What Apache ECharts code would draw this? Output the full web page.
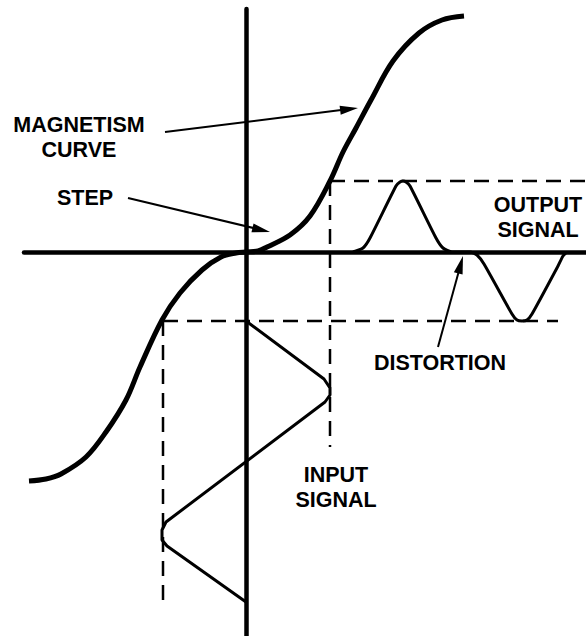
<!DOCTYPE html>
<html>
<head>
<meta charset="utf-8">
<script src="https://cdn.jsdelivr.net/npm/echarts@6/dist/echarts.min.js"></script>
<style>
  html, body { margin: 0; padding: 0; background: #fff; }
  #main { width: 586px; height: 636px; }
</style>
</head>
<body>
<div id="main"></div>
<script>
// magnetism (B-H) curve, origin at the crossing of the two axes, y up
const curveX = [-217, -200, -185, -160, -140, -120, -106, -84, -66, -44, -25, -10, 0, 12, 21, 44, 64, 84, 97, 110, 125, 147, 173, 196, 218];
const curveY = [-229, -227, -222, -205, -180, -148, -115, -68, -41, -18, -5, -1, 0, 1, 5, 17, 36, 71, 100, 124, 152, 191, 219, 232, 236];

// input signal (time runs downwards)
const inputX = [0, 78, 84, 84, 79, -80, -84, -84, -79, 0];
const inputY = [-69, -127, -136, -143, -150, -270, -278, -288, -294, -350];

// output signal (time runs to the right)
const outputX = [107, 117, 124, 150, 154, 157, 160, 164, 190, 197, 206, 224, 231, 238, 266, 271, 276, 281, 286, 312, 317, 321];
const outputY = [0, 4, 14, 66, 70, 71, 70, 66, 14, 4, 0, 0, -3, -12, -62, -68, -69, -68, -62, -14, -4, 0];

// dashed projection lines
const guideFrom = [[84, 71], [-83, -69], [-83, -69], [84, 71]];
const guideTo = [[340, 71], [312, -69], [-83, -354], [84, -195]];

// annotation arrows: tail -> tip
const arrowTail = [[-81, 120], [-118, 54], [192, -95]];
const arrowTip = [[112, 144], [24, 20], [217, -4]];

const FONT = 'bold 21.5px "Liberation Sans", Arial, sans-serif';
const HEAD = [9, 18]; // arrow head width, length

function pairs(xs, ys) {
    return xs.map(function (x, i) { return [x, ys[i]]; });
}

const chart = echarts.init(document.getElementById('main'), null, { renderer: 'svg' });

const guideSeries = guideFrom.map(function (f, i) {
    return {
        type: 'line',
        data: [f, guideTo[i]],
        symbol: 'none',
        silent: true,
        lineStyle: { color: '#000', width: 2.5, type: [15, 9] },
        z: 1
    };
});

// one axis unit is one pixel, so the head can be pulled back in data units
const arrowSeries = [];
const heads = [];
arrowTail.forEach(function (t, i) {
    const p = arrowTip[i];
    const dx = p[0] - t[0], dy = p[1] - t[1];
    const len = Math.sqrt(dx * dx + dy * dy);
    const ux = dx / len, uy = dy / len;
    const half = HEAD[1] / 2;
    arrowSeries.push({
        type: 'line',
        data: [t, [p[0] - ux * half, p[1] - uy * half]],
        symbol: 'none',
        silent: true,
        lineStyle: { color: '#000', width: 2 },
        z: 4
    });
    heads.push({
        value: [p[0] - ux * half, p[1] - uy * half],
        symbolRotate: Math.atan2(-dx, dy) * 180 / Math.PI
    });
});

const option = {
    animation: false,
    backgroundColor: '#fff',
    grid: { left: 24, right: 0, top: 9, bottom: 0 },
    xAxis: {
        type: 'value',
        min: -222,
        max: 340,
        axisLine: { onZero: true, lineStyle: { color: '#000', width: 4.5 } },
        axisTick: { show: false },
        axisLabel: { show: false },
        splitLine: { show: false }
    },
    yAxis: {
        type: 'value',
        min: -384,
        max: 243,
        axisLine: { onZero: true, lineStyle: { color: '#000', width: 4.5 } },
        axisTick: { show: false },
        axisLabel: { show: false },
        splitLine: { show: false }
    },
    series: guideSeries.concat(arrowSeries, [
        {
            name: 'magnetism curve',
            type: 'line',
            data: pairs(curveX, curveY),
            smooth: 0.35,
            symbol: 'none',
            silent: true,
            lineStyle: { color: '#000', width: 5 },
            z: 3
        },
        {
            name: 'input signal',
            type: 'line',
            data: pairs(inputX, inputY),
            symbol: 'none',
            silent: true,
            lineStyle: { color: '#000', width: 3 },
            z: 3
        },
        {
            name: 'output signal',
            type: 'line',
            data: pairs(outputX, outputY),
            smooth: 0.2,
            symbol: 'none',
            silent: true,
            lineStyle: { color: '#000', width: 3 },
            z: 3
        },
        {
            name: 'arrow heads',
            type: 'scatter',
            data: heads,
            symbol: 'triangle',
            symbolSize: HEAD,
            silent: true,
            itemStyle: { color: '#000', opacity: 1 },
            z: 5
        }
    ]),
    graphic: [
        { type: 'text', x: 79, y: 137.5, style: { text: 'MAGNETISM\nCURVE', font: FONT, fill: '#000', textAlign: 'center', textVerticalAlign: 'middle', lineHeight: 25 } },
        { type: 'text', x: 85, y: 197.5, style: { text: 'STEP', font: FONT, fill: '#000', textAlign: 'center', textVerticalAlign: 'middle' } },
        { type: 'text', x: 538, y: 217, style: { text: 'OUTPUT\nSIGNAL', font: FONT, fill: '#000', textAlign: 'center', textVerticalAlign: 'middle', lineHeight: 25 } },
        { type: 'text', x: 440, y: 363, style: { text: 'DISTORTION', font: FONT, fill: '#000', textAlign: 'center', textVerticalAlign: 'middle' } },
        { type: 'text', x: 336, y: 487, style: { text: 'INPUT\nSIGNAL', font: FONT, fill: '#000', textAlign: 'center', textVerticalAlign: 'middle', lineHeight: 25 } }
    ]
};

chart.setOption(option);
</script>
</body>
</html>
